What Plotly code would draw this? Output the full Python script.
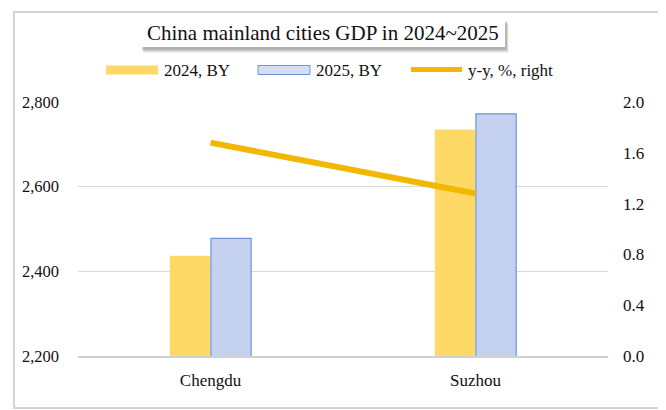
import plotly.graph_objects as go

cities = ["Chengdu", "Suzhou"]
gdp_2024 = [2437, 2735]
gdp_2025 = [2478, 2772]
yoy_pct = [1.68, 1.28]
left_ticks = [2200, 2400, 2600, 2800]
right_ticks = [0.0, 0.4, 0.8, 1.2, 1.6, 2.0]

OFF = 8  # page body margin
W, H = 666 - OFF, 410 - OFF
ML = 78 - OFF
MT = 102 - OFF
MR = W - (608 - OFF)
MB = H - (356 - OFF)
PW, PH = W - ML - MR, H - MT - MB

def px(x):
    return (x - OFF - ML) / PW

def py(y):
    return (MT + PH - (y - OFF)) / PH

FONT = "Liberation Serif"
TXT = "#111111"

fig = go.Figure()
fig.add_trace(go.Bar(x=cities, y=gdp_2024, name="2024, BY",
                     marker=dict(color="#FFD966", line=dict(width=0)),
                     yaxis="y"))
fig.add_trace(go.Bar(x=cities, y=gdp_2025, name="2025, BY",
                     marker=dict(color="#C4D2F0", line=dict(color="#6F93D8", width=1.2)),
                     yaxis="y"))
fig.add_trace(go.Scatter(x=cities, y=yoy_pct, name="y-y, %, right", mode="lines",
                         line=dict(color="#F2B800", width=6), yaxis="y2"))

shapes = []
# outer border
shapes.append(dict(type="rect", xref="paper", yref="paper",
                   x0=px(14), x1=px(662), y0=py(12), y1=py(408),
                   line=dict(color="#D4D4D4", width=2), fillcolor="rgba(0,0,0,0)", layer="below"))
# title box shadow (soft)
for off, a in [(6, 0.05), (5, 0.07), (4, 0.09), (3, 0.11)]:
    shapes.append(dict(type="rect", xref="paper", yref="paper",
                       x0=px(140 + off * 0.6), x1=px(505 + off * 0.6),
                       y0=py(18 + off), y1=py(47 + off),
                       line=dict(width=0), fillcolor=f"rgba(0,0,0,{a})"))
shapes.append(dict(type="rect", xref="paper", yref="paper",
                   x0=px(140), x1=px(505), y0=py(18), y1=py(47),
                   line=dict(width=0), fillcolor="white"))
# legend symbols
shapes.append(dict(type="rect", xref="paper", yref="paper",
                   x0=px(106), x1=px(158), y0=py(65.5), y1=py(74.5),
                   line=dict(width=0), fillcolor="#FFD966"))
shapes.append(dict(type="rect", xref="paper", yref="paper",
                   x0=px(258), x1=px(310), y0=py(65.5), y1=py(74.5),
                   line=dict(color="#6F93D8", width=1), fillcolor="#D3DDF3"))
shapes.append(dict(type="line", xref="paper", yref="paper",
                   x0=px(411), x1=px(462), y0=py(69.5), y1=py(69.5),
                   line=dict(color="#F2B800", width=5)))

annotations = [
    dict(text="China mainland cities GDP in 2024~2025", xref="paper", yref="paper",
         x=px(322.5), y=py(32.5), xanchor="center", yanchor="middle", showarrow=False,
         font=dict(family=FONT, size=21, color=TXT)),
    dict(text="2024, BY", xref="paper", yref="paper", x=px(162), y=py(70),
         xanchor="left", yanchor="middle", showarrow=False,
         font=dict(family=FONT, size=17, color=TXT)),
    dict(text="2025, BY", xref="paper", yref="paper", x=px(314), y=py(70),
         xanchor="left", yanchor="middle", showarrow=False,
         font=dict(family=FONT, size=17, color=TXT)),
    dict(text="y-y, %, right", xref="paper", yref="paper", x=px(466), y=py(70),
         xanchor="left", yanchor="middle", showarrow=False,
         font=dict(family=FONT, size=17, color=TXT)),
]

fig.update_layout(
    width=W, height=H,
    margin=dict(l=ML, r=MR, t=MT, b=MB, pad=0),
    paper_bgcolor="white", plot_bgcolor="white",
    showlegend=False,
    barmode="group", bargap=0.69, bargroupgap=0.02,
    font=dict(family=FONT, size=17, color=TXT),
    separators=".,",
    xaxis=dict(showgrid=False, showline=True, linecolor="#D0D0D0", linewidth=1.5,
               ticks="", ticklabelstandoff=8,
               tickfont=dict(family=FONT, size=17, color=TXT)),
    yaxis=dict(range=[2200, 2800], tickvals=left_ticks, tickformat=",d",
               showgrid=True, gridcolor="#D9D9D9", gridwidth=1, zeroline=False,
               showline=False, ticks="", ticklabelstandoff=18,
               tickfont=dict(family=FONT, size=16.5, color=TXT)),
    yaxis2=dict(range=[0, 2.0], tickvals=right_ticks, tickformat=".1f", overlaying="y",
                side="right", showgrid=False, zeroline=False, showline=False, ticks="",
                ticklabelstandoff=14,
                tickfont=dict(family=FONT, size=17, color=TXT)),
    shapes=shapes,
    annotations=annotations,
)

fig.write_html("out.html")
